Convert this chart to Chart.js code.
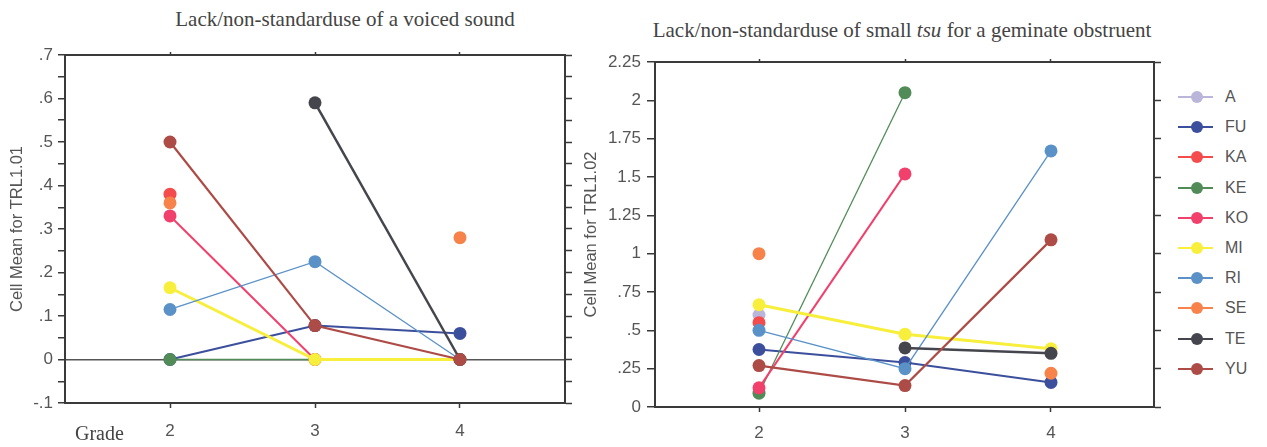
<!DOCTYPE html>
<html lang="en">
<head>
<meta charset="UTF-8">
<title>Cell means TRL1.01 / TRL1.02</title>
<style>
  body { margin: 0; background: #fff; }
  #wrap { position: relative; width: 1267px; height: 447px; overflow: hidden; }
  .title { position: absolute; font-family: 'Liberation Serif', 'Times New Roman', serif; font-size: 21px; line-height: 21px; color: #444; white-space: nowrap; transform: translateX(-50%); }
  canvas { position: absolute; top: 0; }
  #legend { position: absolute; left: 1176px; top: 82px; font-family: 'Liberation Sans', Arial, sans-serif; font-size: 16px; color: #555; }
  .item { height: 30.2px; display: flex; align-items: center; }
  .item span { margin-left: 9px; }
</style>
</head>
<body>
<div id="wrap">
  <div class="title" style="left:345px; top:9px">Lack/non-standarduse of a voiced sound</div>
  <div class="title" style="left:902px; top:20px">Lack/non-standarduse of small <i>tsu</i> for a geminate obstruent</div>
  <canvas id="leftChart" width="578" height="447" style="left:0"></canvas>
  <canvas id="rightChart" width="592" height="447" style="left:578px"></canvas>
  <div id="legend"></div>
</div>

<script src="https://cdn.jsdelivr.net/npm/chart.js"></script>
<script>
  const grades = [2, 3, 4]
  const names = ['A', 'FU', 'KA', 'KE', 'KO', 'MI', 'RI', 'SE', 'TE', 'YU']
  const colors = ['#bab6da', '#3c4f9c', '#f44c4c', '#518c58', '#f2406c', '#f7ef3c', '#5a92c8', '#f7824a', '#45454d', '#ad4b46']
  const lineWidths = [1.5, 2, 2, 1.3, 2, 3, 1.3, 2, 2.5, 2.2]

  // TRL1.01 - voiced sound (grade 2, 3, 4)
  const voicedA = [null, null, null]
  const voicedFU = [0, 0.078, 0.06]
  const voicedKA = [0.38, null, null]
  const voicedKE = [0, 0, null]
  const voicedKO = [0.33, 0, null]
  const voicedMI = [0.165, 0, 0]
  const voicedRI = [0.115, 0.225, 0]
  const voicedSE = [0.36, null, 0.28]
  const voicedTE = [null, 0.59, 0]
  const voicedYU = [0.5, 0.078, 0]

  // TRL1.02 - small tsu
  const tsuA = [0.6, null, null]
  const tsuFU = [0.375, 0.29, 0.16]
  const tsuKA = [0.55, null, null]
  const tsuKE = [0.09, 2.05, null]
  const tsuKO = [0.125, 1.52, null]
  const tsuMI = [0.667, 0.475, 0.38]
  const tsuRI = [0.5, 0.25, 1.67]
  const tsuSE = [1.0, null, 0.22]
  const tsuTE = [null, 0.385, 0.35]
  const tsuYU = [0.27, 0.14, 1.09]

  const voiced = [voicedA, voicedFU, voicedKA, voicedKE, voicedKO, voicedMI, voicedRI, voicedSE, voicedTE, voicedYU]
  const tsu = [tsuA, tsuFU, tsuKA, tsuKE, tsuKO, tsuMI, tsuRI, tsuSE, tsuTE, tsuYU]

  const sans = "'Liberation Sans', Arial, sans-serif"
  const serif = "'Liberation Serif', 'Times New Roman', serif"
  const axisColor = '#3a3a3a'
  const labelColor = '#555'

  // .7 / -.1 / 2.25 style labels
  const fmt = v => v === 0 ? '0' : String(v).replace('0.', '.')

  const makeDatasets = rows => names.map((name, i) => ({
    label: name,
    data: grades.map((g, j) => ({ x: g, y: rows[i][j] })),
    borderColor: colors[i],
    backgroundColor: colors[i],
    borderWidth: lineWidths[i],
    pointRadius: 6.5,
    pointBorderWidth: 0,
    pointBackgroundColor: colors[i],
    spanGaps: false,
    order: -i // later series drawn on top
  }))

  const stepTicks = (min, max, step) => {
    const n = Math.round((max - min) / step)
    return [...Array(n + 1)].map((_, k) => ({ value: +(min + k * step).toFixed(3) }))
  }

  function buildScales(o) {
    const gradeTicks = s => { s.ticks = grades.map(v => ({ value: v })) }
    const border = { display: true, color: axisColor, width: 2 }
    return {
      x: {
        type: 'linear', position: 'bottom', min: o.xMin, max: o.xMax,
        afterBuildTicks: gradeTicks,
        afterFit: s => { s.height = o.h - o.area.bottom },
        ticks: { color: labelColor, font: { family: sans, size: 17 }, padding: o.xPad, callback: v => String(v) },
        grid: { drawOnChartArea: false, tickLength: 5, tickColor: axisColor, tickWidth: 1.5 },
        border,
        title: { display: o.grade, text: '\u2002Grade', align: 'start', color: '#444', font: { family: serif, size: 20 }, padding: { top: 0, bottom: 0 } }
      },
      xTop: {
        type: 'linear', position: 'top', min: o.xMin, max: o.xMax,
        afterBuildTicks: gradeTicks,
        afterFit: s => { s.height = o.area.top },
        ticks: { display: false },
        grid: { drawOnChartArea: false, tickLength: 3, tickColor: axisColor, tickWidth: 1.5 },
        border
      },
      y: {
        type: 'linear', position: 'left', min: o.yMin, max: o.yMax,
        afterBuildTicks: s => { s.ticks = stepTicks(o.yMin, o.yMax, o.yStep) },
        afterFit: s => { s.width = o.area.left },
        ticks: { color: labelColor, font: { family: sans, size: 17 }, padding: o.yPad, autoSkip: false, callback: o.yLabel },
        grid: {
          drawOnChartArea: true,
          color: c => c.tick && c.tick.value === 0 ? '#555' : 'rgba(0,0,0,0)',
          lineWidth: 1.5,
          tickLength: o.yTick, tickColor: axisColor, tickWidth: 1.5
        },
        border,
        title: { display: true, text: o.yTitle, color: labelColor, font: { family: sans, size: 16.5 }, padding: { top: o.titlePad, bottom: 0 } }
      },
      yRight: {
        type: 'linear', position: 'right', min: o.yMin, max: o.yMax,
        afterBuildTicks: s => { s.ticks = stepTicks(o.yMin, o.yMax, o.rStep) },
        afterFit: s => { s.width = o.w - o.area.right },
        ticks: { display: false },
        grid: { drawOnChartArea: false, tickLength: 7, tickColor: axisColor, tickWidth: 1.5 },
        border
      }
    }
  }

  const commonOptions = scales => ({
    responsive: false,
    animation: false,
    layout: { padding: 0 },
    plugins: { legend: { display: false }, tooltip: { enabled: false } },
    scales
  })

  // left chart: area 65..565 x 55..403, grades 2/4 at 170/460
  new Chart(document.getElementById('leftChart'), {
    type: 'line',
    data: { datasets: makeDatasets(voiced) },
    options: commonOptions(buildScales({
      w: 578, h: 447,
      area: { left: 65, right: 565, top: 55, bottom: 403 },
      xMin: 2 - 105 / 145, xMax: 4 + 105 / 145,
      yMin: -0.1, yMax: 0.7, yStep: 0.05, rStep: 0.05,
      yLabel: v => Math.round(v * 100) % 10 === 0 ? fmt(v) : '',
      yTick: 7, yPad: 5, xPad: 13,
      yTitle: 'Cell Mean for TRL1.01', titlePad: 8, grade: true
    }))
  })

  // right chart: area (655..1154) - 578 offset, 62..407
  new Chart(document.getElementById('rightChart'), {
    type: 'line',
    data: { datasets: makeDatasets(tsu) },
    options: commonOptions(buildScales({
      w: 592, h: 447,
      area: { left: 77, right: 576, top: 62, bottom: 407 },
      xMin: 2 - 104 / 146, xMax: 4 + 103 / 146,
      yMin: 0, yMax: 2.25, yStep: 0.25, rStep: 0.25,
      yLabel: v => fmt(v),
      yTick: 8, yPad: 6, xPad: 11,
      yTitle: 'Cell Mean for TRL1.02', titlePad: 4, grade: false
    }))
  })

  // legend
  const legend = document.getElementById('legend')
  names.forEach((name, i) => {
    const item = document.createElement('div')
    item.className = 'item'
    item.innerHTML = `<svg width="40" height="16"><line x1="2" y1="8" x2="37" y2="8" stroke="${colors[i]}" stroke-width="2"/><circle cx="21" cy="8" r="6" fill="${colors[i]}"/></svg><span>${name}</span>`
    legend.appendChild(item)
  })
</script>
</body>
</html>
